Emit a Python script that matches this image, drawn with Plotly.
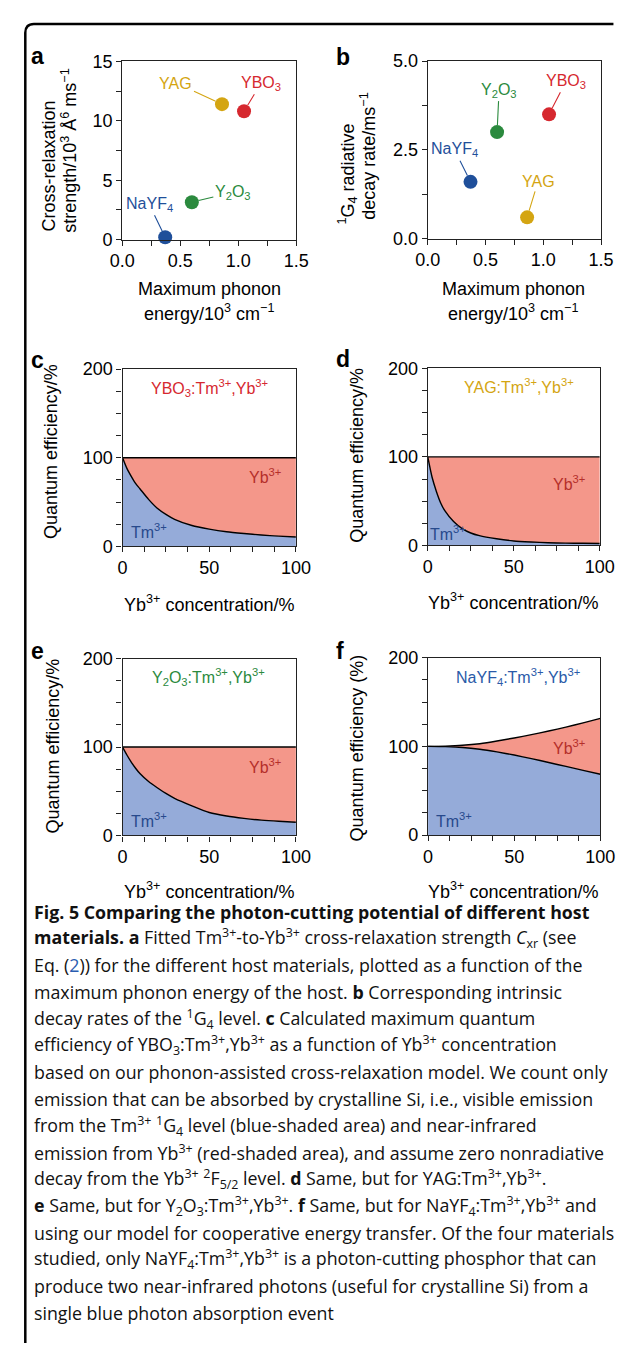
import plotly.graph_objects as go

W, H = 630, 1353
OFF = 8  # page body margin of the viewer

# ---------------- data ----------------
hosts = ["YAG", "YBO3", "Y2O3", "NaYF4"]
host_labels = ["YAG", "YBO<sub>3</sub>", "Y<sub>2</sub>O<sub>3</sub>", "NaYF<sub>4</sub>"]
host_colors = ["#d4a512", "#d6282f", "#2b8a3e", "#1f4f9a"]
phonon_energy = [0.86, 1.05, 0.60, 0.37]          # 10^3 cm^-1
cross_relax = [11.4, 10.8, 3.15, 0.2]             # 10^3 Å^6 ms^-1
decay_rate = [0.6, 3.5, 3.0, 1.6]                 # ms^-1

x_ticks_ab = [0.0, 0.5, 1.0, 1.5]
y_ticks_a = [0, 5, 10, 15]
y_ticks_b = [0.0, 2.5, 5.0]

conc = [0, 2.5, 5, 7.5, 10, 15, 20, 25, 30, 40, 50, 60, 70, 80, 90, 100]
ybo3_tm = [100, 88, 79, 71, 65, 53, 43, 36, 30.5, 23.5, 19.5, 16.5, 14.5, 12.8, 11.5, 10.5]
ybo3_total = [100, 100, 100, 100, 100, 100, 100, 100, 100, 100, 100, 100, 100, 100, 100, 100]
yag_tm = [100, 77, 61, 48, 39, 27, 19, 14, 11, 7.5, 5, 3.8, 3, 2.6, 2.4, 2.2]
yag_total = [100, 100, 100, 100, 100, 100, 100, 100, 100, 100, 100, 100, 100, 100, 100, 100]
y2o3_tm = [100, 91, 83, 76, 70, 61, 54, 47.5, 42, 33.5, 26, 22, 19.3, 17.3, 16, 15]
y2o3_total = [100, 100, 100, 100, 100, 100, 100, 100, 100, 100, 100, 100, 100, 100, 100, 100]
conc_f = [0, 10, 20, 30, 40, 50, 60, 70, 80, 90, 100]
nayf4_tm = [100, 99.7, 98.8, 96.8, 93.8, 90.2, 86.2, 81.8, 77.4, 72.9, 68.5]
nayf4_total = [100, 100.3, 101.2, 103, 106, 109.5, 113.2, 117.3, 121.7, 126.5, 131.5]

x_ticks_qe = [0, 50, 100]
y_ticks_qe = [0, 100, 200]

# ---------------- style ----------------
FONT = "Liberation Sans, Arial, Helvetica, sans-serif"
CAP_FONT = "Open Sans, Noto Sans, sans-serif"
BLUE_FILL = "#95abd9"
RED_FILL = "#f4978a"
TM_TXT = "#27498c"
YB_TXT = "#b52f2a"
AX = "#222222"


def px(x):
    return (x - OFF) / W


def py(y):
    return 1 - (y - OFF) / H


# axis boxes in page pixels: (x0, x1, ytop, ybottom)
boxes = {
    "a": (114, 296, 52, 233),
    "b": (433.7, 615, 51.7, 232),
    "c": (114.3, 295.7, 364.3, 544.3),
    "d": (433.7, 613.7, 363.7, 543.3),
    "e": (114.3, 295.7, 658.3, 837.7),
    "f": (434, 614.3, 657.3, 837.3),
}
order = ["a", "b", "c", "d", "e", "f"]

fig = go.Figure()
layout = dict(
    width=W, height=H, margin=dict(l=0, r=0, t=0, b=0),
    paper_bgcolor="white", plot_bgcolor="white", showlegend=False,
    font=dict(family=FONT, size=18, color="black"),
)


def axis_common():
    return dict(showline=True, linecolor=AX, linewidth=1.2, mirror=True,
                ticks="outside", ticklen=5, tickwidth=1.2, tickcolor=AX,
                showgrid=False, zeroline=False,
                tickfont=dict(family=FONT, size=18, color="black"))


for i, k in enumerate(order):
    x0, x1, yt, yb = boxes[k]
    n = "" if i == 0 else str(i + 1)
    xa = axis_common()
    ya = axis_common()
    xa.update(domain=[px(x0), px(x1)], anchor="y" + n)
    ya.update(domain=[py(yb), py(yt)], anchor="x" + n)
    if k in ("a", "b"):
        xa.update(range=[0, 1.5], tickvals=x_ticks_ab, ticktext=["%.1f" % v for v in x_ticks_ab],
                  minor=dict(dtick=0.25, tick0=0, ticks="outside", ticklen=5, tickwidth=1.2, tickcolor=AX))
        if k == "a":
            ya.update(range=[0, 15], tickvals=y_ticks_a, ticktext=[str(v) for v in y_ticks_a],
                      minor=dict(dtick=2.5, tick0=0, ticks="outside", ticklen=5, tickwidth=1.2, tickcolor=AX))
        else:
            ya.update(range=[0, 5], tickvals=y_ticks_b, ticktext=["%.1f" % v for v in y_ticks_b],
                      minor=dict(dtick=1.25, tick0=0, ticks="outside", ticklen=5, tickwidth=1.2, tickcolor=AX))
    else:
        xa.update(range=[0, 100], tickvals=x_ticks_qe, ticktext=[str(v) for v in x_ticks_qe],
                  minor=dict(dtick=12.5, tick0=0, ticks="outside", ticklen=5, tickwidth=1.2, tickcolor=AX))
        ya.update(range=[0, 200], tickvals=y_ticks_qe, ticktext=[str(v) for v in y_ticks_qe],
                  minor=dict(dtick=25, tick0=0, ticks="outside", ticklen=5, tickwidth=1.2, tickcolor=AX))
    layout["xaxis" + n] = xa
    layout["yaxis" + n] = ya

annotations = []

# ---------- panels a & b: scatter ----------
label_offsets = {
    "a": {"YAG": (-46, -21), "YBO3": (17, -28), "Y2O3": (41, -10), "NaYF4": (-16, -33)},
    "b": {"YAG": (11, -36), "YBO3": (17, -33), "Y2O3": (2, -42), "NaYF4": (-16, -32)},
}
for k, yvals, xr, yr in (("a", cross_relax, "x", "y"), ("b", decay_rate, "x2", "y2")):
    fig.add_trace(go.Scatter(
        x=phonon_energy, y=yvals, mode="markers", xaxis=xr, yaxis=yr,
        marker=dict(size=14, color=host_colors, line=dict(width=0)),
        cliponaxis=False, hoverinfo="skip"))
    for h, lab, col, xv, yv in zip(hosts, host_labels, host_colors, phonon_energy, yvals):
        dx, dy = label_offsets[k][h]
        annotations.append(dict(
            x=xv, y=yv, xref=xr, yref=yr, text=lab, showarrow=True,
            arrowhead=0, arrowwidth=1.1, arrowcolor=col, ax=dx, ay=dy,
            standoff=7, font=dict(family=FONT, size=16, color=col)))

# ---------- panels c-f: stacked areas ----------
qe_sets = [
    ("c", conc, ybo3_tm, ybo3_total, "x3", "y3", "YBO<sub>3</sub>:Tm<sup>3+</sup>,Yb<sup>3+</sup>", "#d6282f"),
    ("d", conc, yag_tm, yag_total, "x4", "y4", "YAG:Tm<sup>3+</sup>,Yb<sup>3+</sup>", "#d4a512"),
    ("e", conc, y2o3_tm, y2o3_total, "x5", "y5", "Y<sub>2</sub>O<sub>3</sub>:Tm<sup>3+</sup>,Yb<sup>3+</sup>", "#2b8a3e"),
    ("f", conc_f, nayf4_tm, nayf4_total, "x6", "y6", "NaYF<sub>4</sub>:Tm<sup>3+</sup>,Yb<sup>3+</sup>", "#2a5aa8"),
]
label_pos = {
    "c": ((50, 179), (82, 79), (15, 17)),
    "d": ((53, 180), (82, 70), (12, 14)),
    "e": ((49.5, 179), (82, 79), (15, 17.5)),
    "f": ((52, 178), (82, 99), (15, 17)),
}
for k, xs, tm, tot, xr, yr, title, tcol in qe_sets:
    fig.add_trace(go.Scatter(x=xs, y=tm, xaxis=xr, yaxis=yr, mode="lines",
                             line=dict(color="black", width=1.4, shape="spline", smoothing=0.6),
                             fill="tozeroy", fillcolor=BLUE_FILL, hoverinfo="skip"))
    fig.add_trace(go.Scatter(x=xs, y=tot, xaxis=xr, yaxis=yr, mode="lines",
                             line=dict(color="black", width=1.4, shape="spline", smoothing=0.6),
                             fill="tonexty", fillcolor=RED_FILL, hoverinfo="skip"))
    (tx, ty), (ybx, yby), (tmx, tmy) = label_pos[k]
    annotations.append(dict(x=tx, y=ty, xref=xr, yref=yr, text=title, showarrow=False,
                            font=dict(family=FONT, size=16, color=tcol)))
    annotations.append(dict(x=ybx, y=yby, xref=xr, yref=yr, text="Yb<sup>3+</sup>", showarrow=False,
                            font=dict(family=FONT, size=16, color=YB_TXT)))
    annotations.append(dict(x=tmx, y=tmy, xref=xr, yref=yr, text="Tm<sup>3+</sup>", showarrow=False,
                            font=dict(family=FONT, size=16, color=TM_TXT)))


def ptext(x, y, text, size=18, angle=0, bold=False, family=FONT, color="black", xanchor="center"):
    t = "<b>%s</b>" % text if bold else text
    annotations.append(dict(x=px(x), y=py(y), xref="paper", yref="paper", text=t,
                            showarrow=False, textangle=angle, xanchor=xanchor, yanchor="middle",
                            font=dict(family=family, size=size, color=color)))


# panel letters
for lab, (x, y) in {"a": (25, 47), "b": (345, 48), "c": (25, 355), "d": (345, 354),
                    "e": (25, 650), "f": (342, 651)}.items():
    ptext(x, y, lab, size=23, bold=True)

# axis titles
ptext(205, 283, "Maximum phonon")
ptext(205, 307, "energy/10<sup>3</sup> cm<sup>\u22121</sup>")
ptext(523, 283, "Maximum phonon")
ptext(523, 307, "energy/10<sup>3</sup> cm<sup>\u22121</sup>")
ptext(37, 158, "Cross-relaxation", angle=-90)
ptext(58, 143, "strength/10<sup>3</sup> \u00c5<sup>6</sup> ms<sup>\u22121</sup>", angle=-90)
ptext(350, 166, "<sup>1</sup>G<sub>4</sub> radiative", angle=-90)
ptext(372, 148, "decay rate/ms<sup>\u22121</sup>", angle=-90)
ptext(40, 448, "Quantum efficiency/%", angle=-90)
ptext(360, 452, "Quantum efficiency/%", angle=-90)
ptext(42, 747, "Quantum efficiency/%", angle=-90)
ptext(360, 749, "Quantum efficiency (%)", angle=-90)
ptext(205, 602, "Yb<sup>3+</sup> concentration/%")
ptext(523, 600, "Yb<sup>3+</sup> concentration/%")
ptext(205, 894, "Yb<sup>3+</sup> concentration/%")
ptext(523, 894, "Yb<sup>3+</sup> concentration/%")

# caption
caption_lines = [
    "<b>Fig. 5 Comparing the photon-cutting potential of different host</b>",
    "<b>materials.</b> <b>a</b> Fitted Tm<sup>3+</sup>-to-Yb<sup>3+</sup> cross-relaxation strength <i>C</i><sub>xr</sub> (see",
    "Eq. (<span style='color:#2a5db0'>2</span>)) for the different host materials, plotted as a function of the",
    "maximum phonon energy of the host. <b>b</b> Corresponding intrinsic",
    "decay rates of the <sup>1</sup>G<sub>4</sub> level. <b>c</b> Calculated maximum quantum",
    "efficiency of YBO<sub>3</sub>:Tm<sup>3+</sup>,Yb<sup>3+</sup> as a function of Yb<sup>3+</sup> concentration",
    "based on our phonon-assisted cross-relaxation model. We count only",
    "emission that can be absorbed by crystalline Si, i.e., visible emission",
    "from the Tm<sup>3+</sup> <sup>1</sup>G<sub>4</sub> level (blue-shaded area) and near-infrared",
    "emission from Yb<sup>3+</sup> (red-shaded area), and assume zero nonradiative",
    "decay from the Yb<sup>3+</sup> <sup>2</sup>F<sub>5/2</sub> level. <b>d</b> Same, but for YAG:Tm<sup>3+</sup>,Yb<sup>3+</sup>.",
    "<b>e</b> Same, but for Y<sub>2</sub>O<sub>3</sub>:Tm<sup>3+</sup>,Yb<sup>3+</sup>. <b>f</b> Same, but for NaYF<sub>4</sub>:Tm<sup>3+</sup>,Yb<sup>3+</sup> and",
    "using our model for cooperative energy transfer. Of the four materials",
    "studied, only NaYF<sub>4</sub>:Tm<sup>3+</sup>,Yb<sup>3+</sup> is a photon-cutting phosphor that can",
    "produce two near-infrared photons (useful for crystalline Si) from a",
    "single blue photon absorption event",
]
for i, line in enumerate(caption_lines):
    ptext(20, 915 + 27.15 * i, line, size=17.8, family=CAP_FONT, color="#111111", xanchor="left")

layout["annotations"] = annotations

# frame (rounded top-left corner)
path = "M %f,%f L %f,%f Q %f,%f %f,%f L %f,%f" % (
    px(12.5), py(1353), px(12.5), py(23), px(12.5), py(14), px(21.5), py(14), px(628), py(14))
layout["shapes"] = [dict(type="path", xref="paper", yref="paper", path=path,
                         line=dict(color="black", width=2.5))]

fig.update_layout(**layout)
fig.write_html("out.html")
